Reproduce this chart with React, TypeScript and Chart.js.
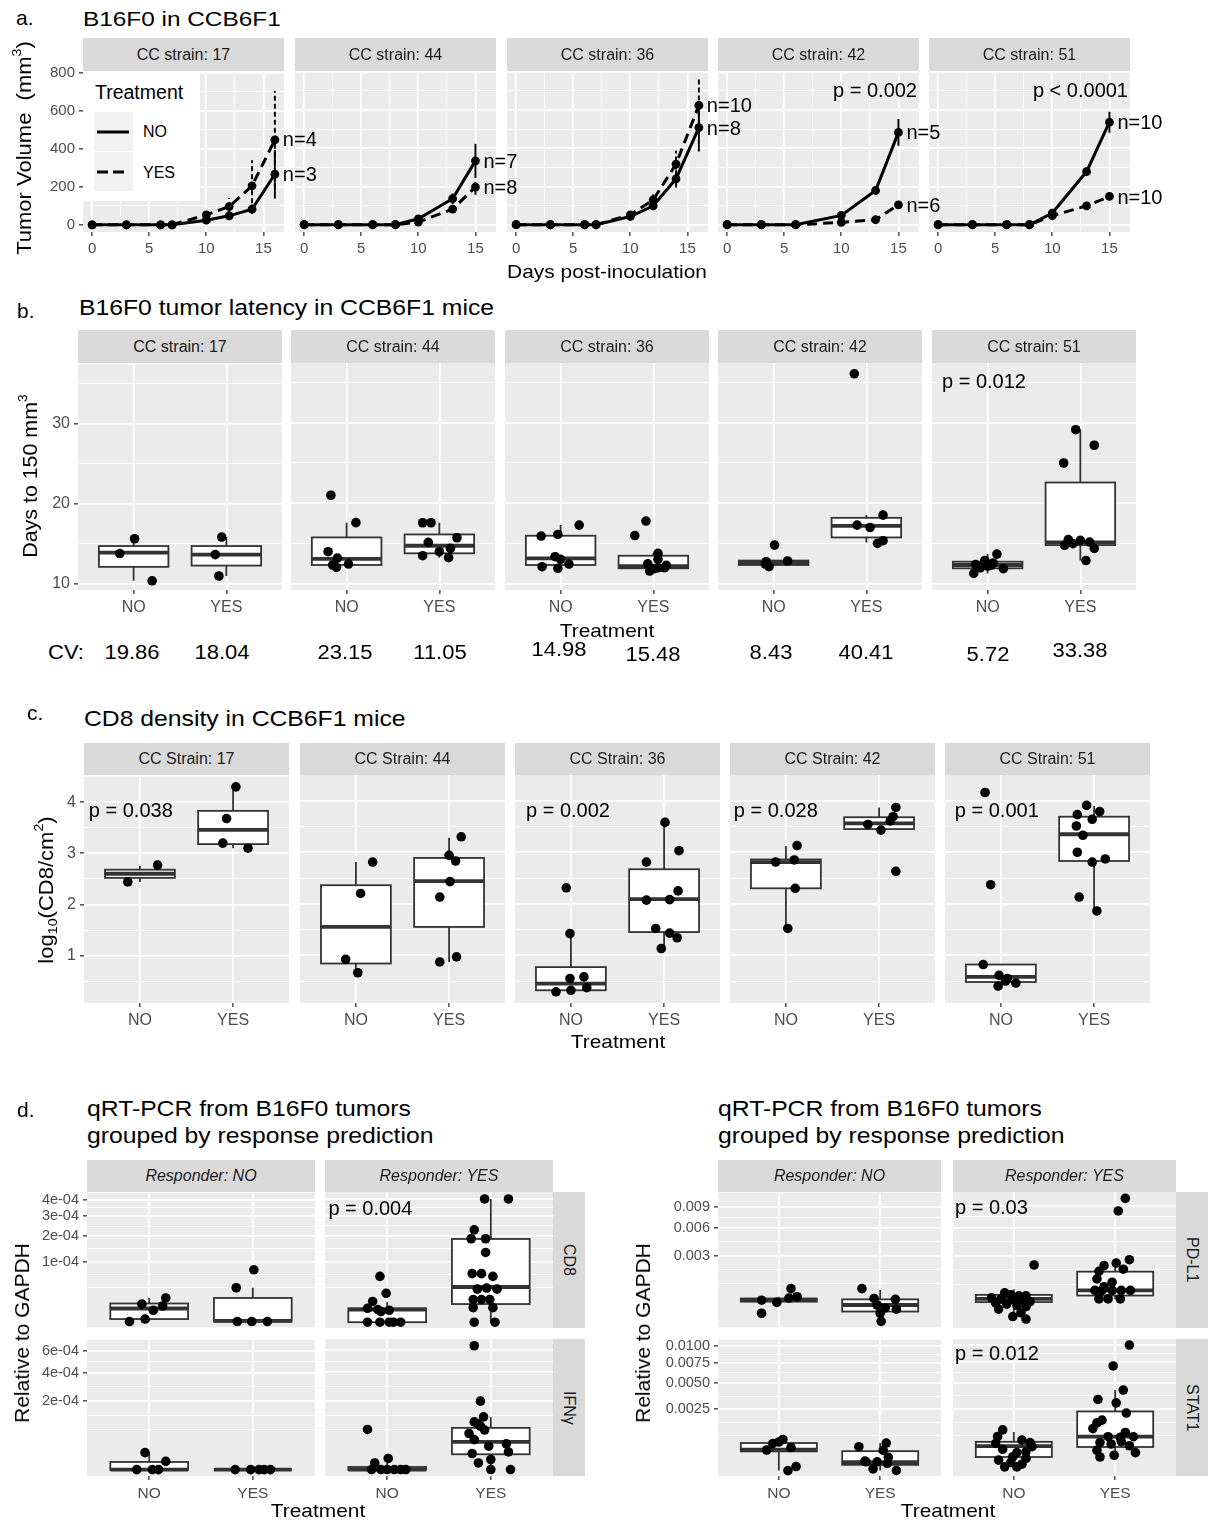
import React, { useEffect, useRef } from "react";
import { Chart, registerables } from "chart.js";

Chart.register(...registerables);

const FONT = '"Liberation Sans", Arial, Helvetica, sans-serif';
const INK = "#333333";

/* ---------------- Panel a : tumour growth curves ---------------- */
const aStrains = ["17", "44", "36", "42", "51"];
const aXTicks = [0, 5, 10, 15];
const aYTicks = [0, 200, 400, 600, 800];
const aDays = [
  [0, 3, 6, 7, 10, 12, 14, 16],
  [0, 3, 6, 8, 10, 13, 15],
  [0, 3, 6, 7, 10, 12, 14, 16],
  [0, 3, 6, 10, 13, 15],
  [0, 3, 6, 8, 10, 13, 15],
];
const aMeanNo = [
  [0, 0, 0, 0, 24, 47, 82, 266],
  [0, 0, 0, 0, 31, 136, 334],
  [0, 0, 0, 0, 43, 99, 240, 508],
  [0, 0, 0, 49, 179, 483],
  [0, 0, 0, 0, 61, 278, 536],
];
const aMeanYes = [
  [0, 0, 0, 0, 52, 96, 205, 447],
  [0, 0, 0, 0, 14, 82, 197],
  [0, 0, 0, 0, 52, 130, 317, 624],
  [0, 0, 0, 12, 26, 104],
  [0, 0, 0, 0, 47, 99, 148],
];
const aErrNo = [
  [0, 0, 0, 0, 8, 15, 25, 128],
  [0, 0, 0, 0, 10, 28, 89],
  [0, 0, 0, 0, 8, 22, 45, 125],
  [0, 0, 0, 10, 15, 70],
  [0, 0, 0, 0, 8, 20, 55],
];
const aErrYes = [
  [0, 0, 0, 0, 15, 45, 134, 257],
  [0, 0, 0, 0, 8, 20, 40],
  [0, 0, 0, 0, 10, 30, 70, 141],
  [0, 0, 0, 5, 10, 20],
  [0, 0, 0, 0, 5, 10, 15],
];
const aNNo = ["n=3", "n=7", "n=8", "n=5", "n=10"];
const aNYes = ["n=4", "n=8", "n=10", "n=6", "n=10"];
const aPValues = ["", "", "", "p = 0.002", "p < 0.0001"];

/* ---------------- Panel b : latency ---------------- */
const bStrains = ["17", "44", "36", "42", "51"];
const bYTicks = [10, 20, 30];
const bNoY = [
  [13.8, 15.65, 10.4],
  [21.0, 17.6, 14.0, 13.2, 12.35, 12.47, 12.06],
  [15.94, 16.14, 17.3, 13.38, 13.05, 12.14, 11.94, 12.47],
  [14.82, 12.76, 12.14, 12.85, 12.47],
  [11.3, 13.7, 11.9, 12.35, 12.56, 12.4, 12.6, 12.9, 12.2, 12.0],
];
const bNoJit = [
  [-0.15, 0.01, 0.2],
  [-0.17, 0.1, -0.2, -0.1, -0.15, 0.02, -0.11],
  [-0.21, -0.03, 0.2, -0.06, 0, -0.2, -0.03, 0.09],
  [0.01, -0.08, -0.05, 0.15, -0.09],
  [-0.15, 0.1, 0.17, 0.04, -0.04, -0.13, 0.06, -0.03, 0.0, -0.08],
];
const bYesY = [
  [13.67, 15.86, 11.0],
  [17.59, 17.59, 15.73, 15.15, 14.41, 13.5, 14.0, 13.26],
  [17.8, 16.0, 13.8, 13.05, 12.5, 12.0, 12.0, 11.9, 11.6, 12.3],
  [36.06, 18.54, 17.3, 17.0, 15.03, 15.36],
  [29.13, 27.2, 25.0, 15.5, 14.8, 15.4, 15.2, 14.4, 12.9, 15.0],
];
const bYesJit = [
  [-0.12, -0.05, -0.08],
  [-0.18, -0.09, 0.19, -0.12, 0.12, -0.18, 0.0, 0.1],
  [-0.08, -0.2, 0.05, 0.05, -0.06, 0.05, 0.12, 0.01, -0.04, 0.14],
  [-0.13, 0.18, -0.1, 0.04, 0.12, 0.18],
  [-0.05, 0.15, -0.18, -0.13, -0.17, 0.0, 0.1, 0.15, 0.06, -0.08],
];
// [lower whisker, Q1, median, Q3, upper whisker]
const bNoBox = [
  [10.4, 12.14, 13.92, 14.74, 15.65],
  [12.06, 12.35, 13.1, 15.77, 17.6],
  [11.94, 12.35, 13.18, 15.98, 17.3],
  [12.14, 12.35, 12.6, 12.9, 13.0],
  [11.3, 11.94, 12.35, 12.76, 13.7],
];
const bYesBox = [
  [11.0, 12.3, 13.67, 14.74, 15.86],
  [13.26, 13.8, 14.74, 16.14, 17.59],
  [11.53, 11.94, 12.2, 13.5, 13.8],
  [15.15, 15.77, 17.2, 18.2, 18.54],
  [12.9, 14.82, 15.15, 22.58, 29.13],
];
const bCVNo = ["19.86", "23.15", "14.98", "8.43", "5.72"];
const bCVYes = ["18.04", "11.05", "15.48", "40.41", "33.38"];
const bPValues = ["", "", "", "", "p = 0.012"];

/* ---------------- Panel c : CD8 density ---------------- */
const cStrains = ["17", "44", "36", "42", "51"];
const cYTicks = [1, 2, 3, 4];
const cNoY = [
  [2.44, 2.77],
  [2.81, 2.2, 0.92, 0.66],
  [2.31, 1.42, 0.55, 0.58, 0.29, 0.32, 0.37],
  [3.13, 2.81, 2.85, 2.3, 1.52],
  [4.16, 2.37, 0.82, 0.61, 0.55, 0.46, 0.4, 0.5],
];
const cNoJit = [
  [-0.13, 0.19],
  [0.18, 0.05, -0.11, 0.02],
  [-0.05, -0.01, -0.01, 0.14, -0.16, 0, 0.17],
  [0.12, -0.11, 0.09, 0.1, 0.02],
  [-0.17, -0.11, -0.19, -0.02, 0.07, 0.16, -0.03, 0.05],
];
const cYesY = [
  [4.3, 3.68, 3.2, 3.1],
  [3.3, 2.94, 2.83, 2.43, 2.13, 0.97, 0.87],
  [3.58, 3.03, 2.81, 2.25, 2.07, 2.08, 1.52, 1.43, 1.34, 1.13],
  [3.87, 3.69, 3.61, 3.54, 3.43, 2.63],
  [3.91, 3.79, 3.73, 3.64, 3.51, 3.33, 3.0, 2.81, 2.87, 2.13, 1.86],
];
const cYesJit = [
  [0.03, -0.07, -0.11, 0.16],
  [0.13, 0, 0.07, 0.01, -0.1, 0.08, -0.1],
  [0.01, 0.16, -0.19, 0.15, -0.19, 0.06, -0.09, 0.06, 0.14, -0.03],
  [0.18, 0.15, 0.12, -0.12, 0.02, 0.18],
  [-0.08, 0.06, -0.18, -0.02, -0.19, -0.12, -0.18, -0.02, 0.12, -0.16, 0.03],
];
const cNoBox = [
  [2.44, 2.52, 2.6, 2.68, 2.75],
  [0.66, 0.84, 1.55, 2.36, 2.81],
  [0.29, 0.32, 0.45, 0.77, 1.42],
  [1.52, 2.3, 2.81, 2.86, 3.12],
  [0.4, 0.48, 0.58, 0.82, 0.82],
];
const cYesBox = [
  [3.1, 3.18, 3.46, 3.83, 4.3],
  [0.87, 1.55, 2.44, 2.89, 3.28],
  [1.13, 1.45, 2.09, 2.67, 3.58],
  [3.43, 3.45, 3.56, 3.68, 3.87],
  [1.86, 2.83, 3.35, 3.69, 3.9],
];
const cPValues = ["p = 0.038", "", "p = 0.002", "p = 0.028", "p = 0.001"];

/* ---------------- Panel d : qRT-PCR ([responder][treatment]) ---------------- */
const treatLabels = ["NO", "YES"];
const dResponders = ["NO", "YES"];
const dCD8Ticks = [1e-4, 2e-4, 3e-4, 4e-4];
const dCD8TickLabels = ["1e-04", "2e-04", "3e-04", "4e-04"];
const dIFNTicks = [2e-4, 4e-4, 6e-4];
const dIFNTickLabels = ["2e-04", "4e-04", "6e-04"];
const dPDL1Ticks = [0.003, 0.006, 0.009];
const dPDL1TickLabels = ["0.003", "0.006", "0.009"];
const dSTATTicks = [0.0025, 0.005, 0.0075, 0.01];
const dSTATTickLabels = ["0.0025", "0.0050", "0.0075", "0.0100"];

const dCD8Y = [
  [
    [1.02e-5, 8.4e-6, 1.76e-5, 4.8e-6, 1.6e-7, 6.4e-7],
    [7.6e-5, 3.4e-5, 1.6e-7, 1.6e-7, 1.6e-7],
  ],
  [
    [5.9e-5, 2.5e-5, 1.37e-5, 6.8e-6, 5.8e-6, 5.3e-6, 4.4e-6, 1.6e-7, 1.6e-7, 1.6e-7, 1.6e-7, 1.6e-7],
    [4.0e-4, 4.0e-4, 2.28e-4, 1.87e-4, 1.87e-4, 1.32e-4, 6.6e-5, 6.6e-5, 5.9e-5, 3.2e-5, 3.2e-5, 3.4e-5, 1.6e-5, 1.6e-5, 1.6e-5, 7.3e-6, 7.3e-6, 1.6e-7, 1.6e-7],
  ],
];
const dCD8Jit = [
  [
    [-0.07, 0.13, 0.16, 0.04, -0.19, -0.04],
    [0.01, -0.16, -0.15, -0.01, 0.14],
  ],
  [
    [-0.07, -0.01, -0.14, -0.19, -0.09, 0.02, -0.06, -0.19, -0.07, 0.02, 0.13, 0.06],
    [-0.06, 0.17, -0.16, -0.19, -0.05, -0.05, -0.18, -0.09, 0.02, -0.13, 0.06, -0.04, -0.17, -0.09, -0.01, -0.17, 0.02, -0.16, 0.04],
  ],
];
const dCD8Box = [
  [
    [1.6e-7, 6.4e-7, 6.25e-6, 1.09e-5, 1.76e-5],
    [1.6e-7, 1.6e-7, 2.5e-7, 1.76e-5, 3.4e-5],
  ],
  [
    [1.6e-7, 1.6e-7, 5.8e-6, 6.8e-6, 1.3e-5],
    [1.6e-7, 1.08e-5, 3.6e-5, 1.86e-4, 4.0e-4],
  ],
];

const dIFNY = [
  [
    [1.3e-5, 3.3e-6, 2e-8, 2e-8, 2e-8],
    [2e-8, 2e-8, 2e-8, 2e-8, 2e-8],
  ],
  [
    [6.9e-5, 5.8e-6, 2.2e-6, 2e-8, 2e-8, 2e-8, 2e-8, 2e-8, 2e-8],
    [6.43e-4, 1.98e-4, 1.18e-4, 9.7e-5, 8.1e-5, 6.7e-5, 3.9e-5, 2.4e-5, 2.9e-5, 1.16e-5, 1.39e-5, 4.8e-6, 2.2e-6, 2e-8, 2e-8, 5.6e-5, 9.0e-5],
  ],
];
const dIFNJit = [
  [
    [-0.04, 0.16, -0.12, 0.03, 0.09],
    [-0.17, -0.02, 0.06, 0.11, 0.17],
  ],
  [
    [-0.19, 0.01, -0.12, -0.15, -0.06, 0.13, 0.18, 0.07, 0],
    [-0.16, -0.1, -0.07, -0.16, -0.1, -0.06, -0.16, -0.02, 0.15, -0.18, 0.17, 0, -0.12, 0, 0.19, -0.21, -0.13],
  ],
];
const dIFNBox = [
  [
    [1e-8, 1e-8, 2e-8, 2.9e-6, 1.3e-5],
    [2e-8, 2e-8, 2e-8, 2e-8, 2e-8],
  ],
  [
    [1e-8, 1e-8, 2e-8, 4.5e-7, 2.2e-6],
    [2e-8, 1.06e-5, 3.33e-5, 7.45e-5, 1.17e-4],
  ],
];

const dPDL1Y = [
  [
    [3.53e-4, 2.89e-4, 7.95e-4, 4.67e-4, 4.2e-4, 6.7e-5],
    [7.95e-4, 4.08e-4, 3.8e-4, 2.22e-4, 1.56e-4, 6.7e-5, 1.32e-4, 2.6e-6],
  ],
  [
    [2.25e-3, 6.25e-4, 5.5e-4, 5.1e-4, 5.1e-4, 4.4e-4, 4.0e-4, 3.8e-4, 3.6e-4, 3.24e-4, 2.9e-4, 2.56e-4, 2.25e-4, 1.96e-4, 1.44e-4, 8.1e-5, 3.6e-5, 1.6e-5],
    [1.02e-2, 8.26e-3, 2.67e-3, 2.4e-3, 2.2e-3, 1.79e-3, 1.94e-3, 1.31e-3, 1.13e-3, 9.0e-4, 7.3e-4, 7.3e-4, 7.3e-4, 7.3e-4, 7.3e-4, 4.08e-4, 4.08e-4, 4.08e-4],
  ],
];
const dPDL1Jit = [
  [
    [-0.17, -0.02, 0.12, 0.18, 0.1, -0.17],
    [-0.18, -0.06, 0.15, -0.03, 0.05, 0, 0.16, 0.01],
  ],
  [
    [0.2, -0.09, -0.03, 0.05, 0.12, -0.22, -0.13, 0, 0.08, 0.16, -0.18, -0.07, 0.03, 0.12, -0.15, 0.07, -0.01, 0.12],
    [0.1, 0.03, 0.14, 0.01, -0.11, -0.16, 0.08, -0.18, -0.03, -0.11, -0.2, -0.13, -0.03, 0.06, 0.15, -0.16, -0.07, 0.05],
  ],
];
const dPDL1Box = [
  [
    [2.89e-4, 3.1e-4, 3.57e-4, 4.08e-4, 4.67e-4],
    [6.7e-5, 9.2e-5, 2.22e-4, 3.8e-4, 7.3e-4],
  ],
  [
    [6.4e-5, 3.1e-4, 4.08e-4, 5.48e-4, 7.84e-4],
    [4.08e-4, 5.24e-4, 7.29e-4, 1.77e-3, 2.59e-3],
  ],
];

const dSTATY = [
  [
    [3.24e-4, 5.3e-4, 6.9e-4, 4.0e-4, 5.9e-4, 3.2e-6, 2.5e-5],
    [4.24e-4, 5.5e-4, 3.13e-4, 8.6e-5, 7.6e-5, 1.49e-4, 1.0e-5, 3.6e-6, 7.6e-5, 5.6e-5],
  ],
  [
    [1.13e-3, 8.1e-4, 5.3e-4, 6.6e-4, 5.6e-4, 3.4e-4, 2.5e-4, 2.7e-4, 1.0e-4, 6.7e-5, 1.28e-4, 2.2e-5, 2.2e-5, 4.6e-5, 1.59e-4, 4.2e-4],
    [1.0e-2, 7.0e-3, 4.2e-3, 3.3e-3, 3.0e-3, 2.19e-3, 1.7e-3, 1.53e-3, 8.0e-4, 7.7e-4, 8.0e-4, 5.6e-4, 5.1e-4, 6.0e-4, 2.5e-4, 3.1e-4, 1.54e-4, 1.9e-4, 4.5e-4, 1.0e-3, 1.2e-3],
  ],
];
const dSTATJit = [
  [
    [-0.12, -0.06, 0.04, 0.12, 0, 0.09, 0.17],
    [-0.21, 0.06, 0.03, -0.15, -0.03, 0.08, -0.07, 0.16, -0.14, 0.07],
  ],
  [
    [-0.11, -0.16, -0.18, 0.08, 0.16, -0.11, 0.03, 0.12, -0.15, -0.03, 0.12, -0.09, 0.03, 0.08, -0.01, 0.18],
    [0.14, -0.02, 0.08, -0.17, 0.01, 0.11, -0.13, -0.18, -0.07, 0.05, 0.18, -0.15, -0.04, 0.06, 0.2, -0.18, -0.15, -0.01, 0.14, 0.1, -0.22],
  ],
];
const dSTATBox = [
  [
    [3.2e-6, 2.86e-4, 3.35e-4, 5.52e-4, 6.86e-4],
    [3.6e-6, 4.0e-5, 7.1e-5, 2.92e-4, 5.5e-4],
  ],
  [
    [6.8e-6, 1.54e-4, 4.37e-4, 5.9e-4, 1.02e-3],
    [1.54e-4, 4.1e-4, 8.0e-4, 2.31e-3, 4.2e-3],
  ],
];

/* ---------------- layout (pixels) ---------------- */
const M = 12;
const aLeft = [83, 295, 507, 718, 929];
const bLeft = [78, 291, 505, 718, 932];
const cLeft = [84, 300, 515, 730, 945];
const dLeftCols = [87, 325];
const dRightCols = [718, 953];
const dRowTop = [1192, 1339];
const dRowH = [136, 137];

type Axis = { min: number; max: number; major: number[]; labels: string[]; minor: number[]; show: boolean; size: number; font: number };
type Box = { x: number; s: number[] };
type Err = { xs: number[]; ys: number[]; es: number[]; dash: number[] };
type Spec = { key: string; left: number; top: number; width: number; height: number; x: Axis; y: Axis; datasets: any[]; boxes: Box[]; errs: Err[] };

function minorBreaks(major: number[], min: number, max: number): number[] {
  const bd = major[1] - major[0];
  const ext = [major[0] - bd, ...major, major[major.length - 1] + bd];
  const out: number[] = [];
  for (let i = 0; i < ext.length - 1; i++) out.push(ext[i], (ext[i] + ext[i + 1]) / 2);
  out.push(ext[ext.length - 1]);
  return out.filter((v) => v > min && v < max && !major.some((m) => Math.abs(m - v) < 1e-12));
}

const ident = (v: number) => v;

function yAxis(min: number, max: number, major: number[], labels: string[], show: boolean, size: number, font: number, tf = ident): Axis {
  const tm = major.map(tf);
  return { min, max, major: tm, labels, minor: minorBreaks(tm, min, max), show, size: show ? size : 0, font };
}
function catAxis(show: boolean, font: number): Axis {
  return { min: -0.6, max: 1.6, major: [0, 1], labels: treatLabels, minor: [], show, size: show ? 28 : 0, font };
}

function pointSet(ys: number[], jit: number[], g: number, tf = ident, r = 4.8) {
  return {
    data: ys.map((v, i) => ({ x: g + jit[i], y: tf(v) })),
    pointRadius: r,
    pointHoverRadius: r,
    pointBackgroundColor: "#000",
    pointBorderColor: "#000",
    pointBorderWidth: 0,
    showLine: false,
  };
}
function lineSet(xs: number[], ys: number[], dash: number[]) {
  return {
    data: xs.map((d, i) => ({ x: d, y: ys[i] })),
    showLine: true,
    borderColor: "#000",
    borderWidth: 3,
    borderDash: dash,
    tension: 0,
    pointRadius: 4.4,
    pointHoverRadius: 4.4,
    pointBackgroundColor: "#000",
    pointBorderWidth: 0,
  };
}

function scaleOpts(ax: Axis, horizontal: boolean) {
  const ticks = [
    ...ax.major.map((v, i) => ({ value: v, lbl: ax.labels[i], minor: false })),
    ...ax.minor.map((v) => ({ value: v, lbl: "", minor: true })),
  ].sort((a, b) => a.value - b.value);
  return {
    type: "linear",
    position: horizontal ? "bottom" : "left",
    min: ax.min,
    max: ax.max,
    bounds: "data",
    afterBuildTicks: (sc: any) => {
      sc.ticks = ticks.map((t) => ({ ...t }));
    },
    afterFit: (sc: any) => {
      if (horizontal) sc.height = ax.size;
      else sc.width = ax.size;
    },
    ticks: {
      display: ax.show,
      autoSkip: false,
      maxRotation: 0,
      minRotation: 0,
      padding: 4,
      color: "#4D4D4D",
      font: { family: FONT, size: ax.font },
      callback: (_v: any, i: number, ts: any[]) => ts[i].lbl,
    },
    grid: {
      display: true,
      drawOnChartArea: true,
      drawTicks: ax.show,
      tickLength: 4,
      color: "#FFFFFF",
      lineWidth: (c: any) => (c.tick && c.tick.minor ? 0.8 : 1.7),
      tickColor: (c: any) => (c.tick && c.tick.minor ? "rgba(0,0,0,0)" : INK),
      tickWidth: 1.3,
    },
    border: { display: false },
  };
}

const bgPlugin = {
  id: "panelBg",
  beforeDraw(chart: any) {
    const { ctx, chartArea: a } = chart;
    ctx.save();
    ctx.fillStyle = "#EBEBEB";
    ctx.fillRect(a.left, a.top, a.right - a.left, a.bottom - a.top);
    ctx.restore();
  },
};

function overlayPlugin(boxes: Box[], errs: Err[]) {
  return {
    id: "overlay",
    beforeDatasetsDraw(chart: any) {
      const { ctx, chartArea: a, scales } = chart;
      const xs = scales.x;
      const ys = scales.y;
      ctx.save();
      ctx.beginPath();
      ctx.rect(a.left, a.top, a.right - a.left, a.bottom - a.top);
      ctx.clip();
      // error bars
      ctx.strokeStyle = "#000";
      ctx.lineWidth = 1.9;
      for (const e of errs) {
        ctx.setLineDash(e.dash);
        e.xs.forEach((xv, i) => {
          if (!e.es[i]) return;
          const px = xs.getPixelForValue(xv);
          ctx.beginPath();
          ctx.moveTo(px, ys.getPixelForValue(e.ys[i] - e.es[i]));
          ctx.lineTo(px, ys.getPixelForValue(e.ys[i] + e.es[i]));
          ctx.stroke();
        });
      }
      ctx.setLineDash([]);
      // boxplots
      for (const b of boxes) {
        const [lo, q1, med, q3, hi] = b.s;
        const xc = xs.getPixelForValue(b.x);
        const xl = xs.getPixelForValue(b.x - 0.375);
        const xr = xs.getPixelForValue(b.x + 0.375);
        const p = (v: number) => ys.getPixelForValue(v);
        ctx.strokeStyle = INK;
        ctx.lineWidth = 1.8;
        ctx.beginPath();
        ctx.moveTo(xc, p(lo));
        ctx.lineTo(xc, p(q1));
        ctx.moveTo(xc, p(q3));
        ctx.lineTo(xc, p(hi));
        ctx.stroke();
        ctx.fillStyle = "#FFFFFF";
        ctx.fillRect(xl, p(q3), xr - xl, p(q1) - p(q3));
        ctx.strokeRect(xl, p(q3), xr - xl, p(q1) - p(q3));
        ctx.lineWidth = 3.8;
        ctx.beginPath();
        ctx.moveTo(xl, p(med));
        ctx.lineTo(xr, p(med));
        ctx.stroke();
      }
      ctx.restore();
    },
  };
}

function makeConfig(s: Spec) {
  return {
    type: "scatter",
    data: { datasets: s.datasets },
    options: {
      animation: false,
      responsive: false,
      devicePixelRatio: 1,
      events: [],
      layout: { padding: { left: M, right: M, top: M, bottom: M } },
      plugins: { legend: { display: false }, tooltip: { enabled: false }, title: { display: false } },
      scales: { x: scaleOpts(s.x, true), y: scaleOpts(s.y, false) },
    },
    plugins: [bgPlugin, overlayPlugin(s.boxes, s.errs)],
  };
}

function Facet({ spec }: { spec: Spec }) {
  const ref = useRef<HTMLCanvasElement>(null);
  const cl = spec.left - M - spec.y.size;
  const ct = spec.top - M;
  const cw = spec.width + 2 * M + spec.y.size;
  const ch = spec.height + 2 * M + spec.x.size;
  useEffect(() => {
    const chart = new Chart(ref.current as HTMLCanvasElement, makeConfig(spec) as any);
    return () => chart.destroy();
  }, []);
  return <canvas ref={ref} width={cw} height={ch} style={{ position: "absolute", left: cl, top: ct, width: cw, height: ch }} />;
}

/* ---------------- specs ---------------- */
const aXMin = -0.8, aXMax = 16.8, aYMin = -38, aYMax = 804;
const A_TOP = 71, A_H = 161, A_W = 201;
const specsA: Spec[] = aStrains.map((_, i) => ({
  key: "a" + i,
  left: aLeft[i],
  top: A_TOP,
  width: A_W,
  height: A_H,
  x: { min: aXMin, max: aXMax, major: aXTicks, labels: aXTicks.map(String), minor: minorBreaks(aXTicks, aXMin, aXMax), show: true, size: 28, font: 15 },
  y: yAxis(aYMin, aYMax, aYTicks, aYTicks.map(String), i === 0, 45, 15),
  datasets: [lineSet(aDays[i], aMeanNo[i], []), lineSet(aDays[i], aMeanYes[i], [10, 6])],
  boxes: [],
  errs: [
    { xs: aDays[i], ys: aMeanNo[i], es: aErrNo[i], dash: [] },
    { xs: aDays[i], ys: aMeanYes[i], es: aErrYes[i], dash: [5, 3] },
  ],
}));

const specsB: Spec[] = bStrains.map((_, i) => ({
  key: "b" + i,
  left: bLeft[i],
  top: 363,
  width: 204,
  height: 227,
  x: catAxis(true, 16),
  y: yAxis(9.25, 37.4, bYTicks, bYTicks.map(String), i === 0, 45, 16),
  datasets: [pointSet(bNoY[i], bNoJit[i], 0), pointSet(bYesY[i], bYesJit[i], 1)],
  boxes: [{ x: 0, s: bNoBox[i] }, { x: 1, s: bYesBox[i] }],
  errs: [],
}));

const specsC: Spec[] = cStrains.map((_, i) => ({
  key: "c" + i,
  left: cLeft[i],
  top: 775,
  width: 205,
  height: 228,
  x: catAxis(true, 16),
  y: yAxis(0.073, 4.5, cYTicks, cYTicks.map(String), i === 0, 45, 16),
  datasets: [pointSet(cNoY[i], cNoJit[i], 0), pointSet(cYesY[i], cYesJit[i], 1)],
  boxes: [{ x: 0, s: cNoBox[i] }, { x: 1, s: cYesBox[i] }],
  errs: [],
}));

type Gene = { Y: number[][][]; J: number[][][]; B: number[][][]; ticks: number[]; labels: string[]; min: number; max: number };
const sq = (v: number) => Math.sqrt(v);
function dSpecs(prefix: string, cols: number[], colW: number, genes: Gene[]): Spec[] {
  const out: Spec[] = [];
  genes.forEach((g, r) => {
    cols.forEach((left, c) => {
      out.push({
        key: prefix + r + c,
        left,
        top: dRowTop[r],
        width: colW,
        height: dRowH[r],
        x: catAxis(r === 1, 15.5),
        y: yAxis(g.min, g.max, g.ticks, g.labels, c === 0, 60, 14.5, sq),
        datasets: [pointSet(g.Y[c][0], g.J[c][0], 0, sq), pointSet(g.Y[c][1], g.J[c][1], 1, sq)],
        boxes: [
          { x: 0, s: g.B[c][0].map(sq) },
          { x: 1, s: g.B[c][1].map(sq) },
        ],
        errs: [],
      });
    });
  });
  return out;
}
const specsDL = dSpecs("dl", dLeftCols, 228, [
  { Y: dCD8Y, J: dCD8Jit, B: dCD8Box, ticks: dCD8Ticks, labels: dCD8TickLabels, min: -0.000524, max: 0.02111 },
  { Y: dIFNY, J: dIFNJit, B: dIFNBox, ticks: dIFNTicks, labels: dIFNTickLabels, min: -0.00117, max: 0.02673 },
]);
const specsDR = dSpecs("dr", dRightCols, 223, [
  { Y: dPDL1Y, J: dPDL1Jit, B: dPDL1Box, ticks: dPDL1Ticks, labels: dPDL1TickLabels, min: -0.00321, max: 0.1061 },
  { Y: dSTATY, J: dSTATJit, B: dSTATBox, ticks: dSTATTicks, labels: dSTATTickLabels, min: -0.00245, max: 0.10474 },
]);

/* ---------------- text helpers ---------------- */
function Txt({ x, y, size, children, anchor = "start", sx = 1, italic = false, color = "#000" }: any) {
  const tx = anchor === "middle" ? "-50%" : anchor === "end" ? "-100%" : "0";
  const origin = anchor === "middle" ? "center" : anchor === "end" ? "right" : "left";
  return (
    <div
      style={{
        position: "absolute",
        left: x,
        top: y - 0.8465 * size,
        fontSize: size,
        lineHeight: size + "px",
        whiteSpace: "nowrap",
        color,
        fontStyle: italic ? "italic" : "normal",
        transform: `translateX(${tx}) scaleX(${sx})`,
        transformOrigin: `${origin} center`,
      }}
    >
      {children}
    </div>
  );
}
function VTxt({ cx, cy, size, children, sx = 1 }: any) {
  return (
    <div
      style={{
        position: "absolute",
        left: cx,
        top: cy,
        fontSize: size,
        lineHeight: size + "px",
        whiteSpace: "nowrap",
        transform: `translate(-50%,-50%) rotate(-90deg) scaleX(${sx})`,
        transformOrigin: "center center",
      }}
    >
      {children}
    </div>
  );
}
function Strip({ left, top, width, height, text, italic = false }: any) {
  return (
    <div
      style={{
        position: "absolute",
        left,
        top,
        width,
        height,
        background: "#D9D9D9",
        color: "#1A1A1A",
        fontSize: 16,
        fontStyle: italic ? "italic" : "normal",
        display: "flex",
        alignItems: "center",
        justifyContent: "center",
        whiteSpace: "nowrap",
      }}
    >
      {text}
    </div>
  );
}
function VStrip({ left, top, width, height, text }: any) {
  return (
    <div
      style={{
        position: "absolute",
        left,
        top,
        width,
        height,
        background: "#D9D9D9",
        color: "#1A1A1A",
        fontSize: 16,
        display: "flex",
        alignItems: "center",
        justifyContent: "center",
        writingMode: "vertical-rl",
        whiteSpace: "nowrap",
      }}
    >
      {text}
    </div>
  );
}
const sup = (t: string) => <sup style={{ fontSize: "0.65em", lineHeight: 0, verticalAlign: "0.75em" }}>{t}</sup>;
const sub = (t: string) => <sub style={{ fontSize: "0.65em", lineHeight: 0, verticalAlign: "-0.3em" }}>{t}</sub>;

const lin = (v: number, vmin: number, vmax: number, p0: number, len: number) => p0 + ((v - vmin) / (vmax - vmin)) * len;

/* ---------------- App ---------------- */
export default function App() {
  const bNoCenters = [132, 345, 558.7, 771, 987.7];
  const bYesCenters = [222, 440, 653, 865.6, 1080];
  const bNoBase = [659, 659, 656, 659, 661];
  const bYesBase = [659, 659, 661, 659, 657];
  const cPLeft = [88.8, 0, 526, 733.8, 954.8];
  return (
    <div style={{ position: "absolute", left: 0, top: 0, width: 1208, height: 1525, background: "#FFFFFF", fontFamily: FONT, overflow: "hidden" }}>
      {[...specsA, ...specsB, ...specsC, ...specsDL, ...specsDR].map((s) => (
        <Facet key={s.key} spec={s} />
      ))}

      {/* ---------- panel a ---------- */}
      <Txt x={16} y={25} size={21}>a.</Txt>
      <Txt x={83} y={26} size={21} sx={1.16}>B16F0 in CCB6F1</Txt>
      {aStrains.map((s, i) => (
        <Strip key={"as" + i} left={aLeft[i]} top={38} width={A_W} height={33} text={"CC strain: " + s} />
      ))}
      <VTxt cx={24} cy={148} size={20} sx={1.1}>
        Tumor Volume&nbsp;&nbsp;(mm{sup("3")})
      </VTxt>
      <Txt x={607} y={278} size={19} sx={1.1} anchor="middle">Days post-inoculation</Txt>
      {/* legend */}
      <div style={{ position: "absolute", left: 83, top: 72, width: 117, height: 129, background: "#FFFFFF" }} />
      <svg style={{ position: "absolute", left: 94, top: 112 }} width={40} height={80}>
        <rect x={0} y={0} width={39} height={39} fill="#F2F2F2" />
        <rect x={0} y={40} width={39} height={39} fill="#F2F2F2" />
        <line x1={3} y1={20} x2={35} y2={20} stroke="#000" strokeWidth={3} />
        <line x1={3} y1={60} x2={35} y2={60} stroke="#000" strokeWidth={3} strokeDasharray="11 5" />
      </svg>
      <Txt x={95} y={100} size={19.5}>Treatment</Txt>
      <Txt x={143} y={138} size={16}>NO</Txt>
      <Txt x={143} y={179} size={16}>YES</Txt>
      {aStrains.map((_, i) => {
        const last = aDays[i].length - 1;
        const px = lin(aDays[i][last], aXMin, aXMax, aLeft[i], A_W) + 8;
        const pyNo = A_TOP + A_H - lin(aMeanNo[i][last], aYMin, aYMax, 0, A_H);
        const pyYes = A_TOP + A_H - lin(aMeanYes[i][last], aYMin, aYMax, 0, A_H);
        return (
          <React.Fragment key={"an" + i}>
            <Txt x={px} y={pyNo + 7} size={20}>{aNNo[i]}</Txt>
            <Txt x={px} y={pyYes + 7} size={20}>{aNYes[i]}</Txt>
          </React.Fragment>
        );
      })}
      {aPValues.map((p, i) =>
        p ? (
          <Txt key={"ap" + i} x={aLeft[i] + A_W - 2} y={97} size={20} anchor="end">
            {p}
          </Txt>
        ) : null
      )}

      {/* ---------- panel b ---------- */}
      <Txt x={17} y={318} size={21}>b.</Txt>
      <Txt x={78.5} y={316} size={21.5} sx={1.15}>B16F0 tumor latency in CCB6F1 mice</Txt>
      {bStrains.map((s, i) => (
        <Strip key={"bs" + i} left={bLeft[i]} top={330} width={204} height={33} text={"CC strain: " + s} />
      ))}
      <VTxt cx={30} cy={476} size={20} sx={1.07}>
        Days to 150 mm{sup("3")}
      </VTxt>
      <Txt x={607} y={637} size={19} sx={1.1} anchor="middle">Treatment</Txt>
      {bPValues.map((p, i) =>
        p ? (
          <Txt key={"bp" + i} x={942} y={388} size={20}>
            {p}
          </Txt>
        ) : null
      )}
      <Txt x={48} y={659} size={20} sx={1.1}>CV:</Txt>
      {bCVNo.map((t, i) => (
        <Txt key={"cvn" + i} x={bNoCenters[i]} y={bNoBase[i]} size={20} sx={1.1} anchor="middle">
          {t}
        </Txt>
      ))}
      {bCVYes.map((t, i) => (
        <Txt key={"cvy" + i} x={bYesCenters[i]} y={bYesBase[i]} size={20} sx={1.1} anchor="middle">
          {t}
        </Txt>
      ))}

      {/* ---------- panel c ---------- */}
      <Txt x={27} y={720} size={21}>c.</Txt>
      <Txt x={84} y={727} size={21.5} sx={1.15}>CD8 density in CCB6F1 mice</Txt>
      {cStrains.map((s, i) => (
        <Strip key={"cs" + i} left={cLeft[i]} top={743} width={205} height={32} text={"CC Strain: " + s} />
      ))}
      <VTxt cx={46} cy={890} size={20} sx={1.1}>
        log{sub("10")}(CD8/cm{sup("2")})
      </VTxt>
      {cPValues.map((p, i) =>
        p ? (
          <Txt key={"cp" + i} x={cPLeft[i]} y={817} size={20}>
            {p}
          </Txt>
        ) : null
      )}
      <Txt x={617.5} y={1048} size={19} sx={1.1} anchor="middle">Treatment</Txt>

      {/* ---------- panel d ---------- */}
      <Txt x={17} y={1117} size={21}>d.</Txt>
      <Txt x={87} y={1117} size={21.5} sx={1.15}>qRT-PCR from B16F0 tumors</Txt>
      <Txt x={87} y={1144} size={21.5} sx={1.15}>grouped by response prediction</Txt>
      <Txt x={718} y={1117} size={21.5} sx={1.15}>qRT-PCR from B16F0 tumors</Txt>
      <Txt x={718} y={1144} size={21.5} sx={1.15}>grouped by response prediction</Txt>
      {dResponders.map((r, i) => (
        <Strip key={"dls" + i} left={dLeftCols[i]} top={1160} width={228} height={32} text={"Responder: " + r} italic />
      ))}
      {dResponders.map((r, i) => (
        <Strip key={"drs" + i} left={dRightCols[i]} top={1160} width={223} height={32} text={"Responder: " + r} italic />
      ))}
      <VStrip left={553} top={dRowTop[0]} width={32} height={dRowH[0]} text="CD8" />
      <VStrip left={553} top={dRowTop[1]} width={32} height={dRowH[1]} text="IFNγ" />
      <VStrip left={1176} top={dRowTop[0]} width={32} height={dRowH[0]} text="PD-L1" />
      <VStrip left={1176} top={dRowTop[1]} width={32} height={dRowH[1]} text="STAT1" />
      <VTxt cx={22} cy={1333} size={20} sx={1.05}>Relative to GAPDH</VTxt>
      <VTxt cx={643} cy={1333} size={20} sx={1.05}>Relative to GAPDH</VTxt>
      <Txt x={328.4} y={1215} size={20}>p = 0.004</Txt>
      <Txt x={955} y={1214} size={20}>p = 0.03</Txt>
      <Txt x={955} y={1360} size={20}>p = 0.012</Txt>
      <Txt x={318} y={1517} size={19} sx={1.1} anchor="middle">Treatment</Txt>
      <Txt x={948} y={1517} size={19} sx={1.1} anchor="middle">Treatment</Txt>
    </div>
  );
}
